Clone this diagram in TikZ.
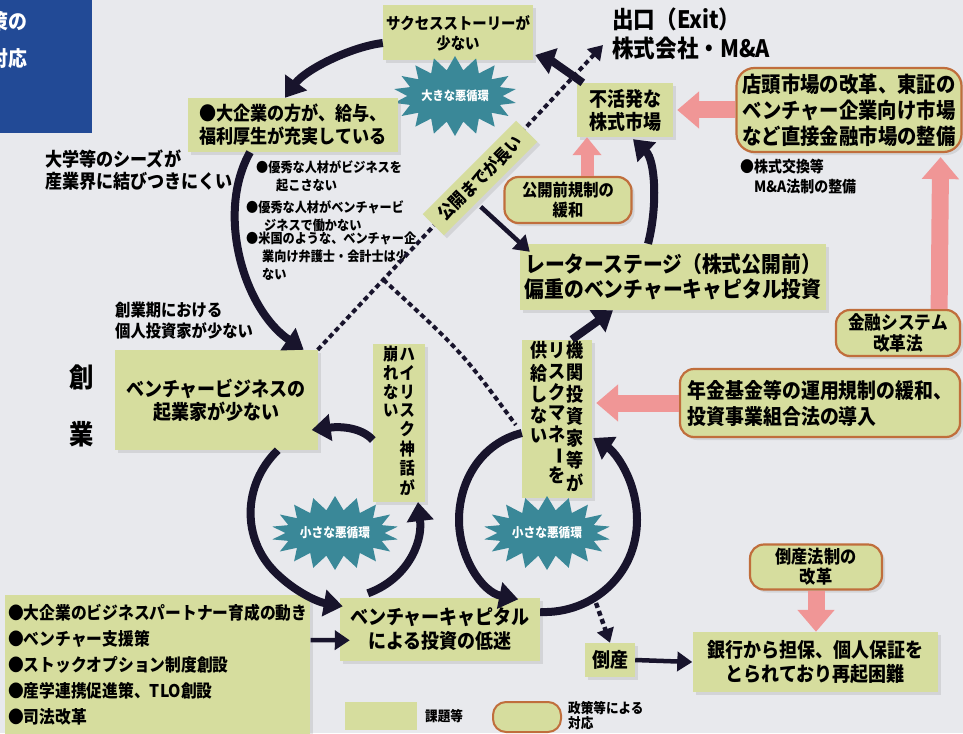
\documentclass[tikz,border=0pt]{standalone}
\usepackage{fontspec}
\usepackage{graphicx}
\setmainfont{Noto Sans CJK JP}[FakeStretch=0.9]
\usetikzlibrary{arrows.meta,shapes.symbols,calc,shadows}
\definecolor{bgC}{RGB}{232,233,237}
\definecolor{boxg}{RGB}{214,221,158}
\definecolor{polb}{RGB}{192,110,60}
\definecolor{pinkC}{RGB}{240,150,150}
\definecolor{tealC}{RGB}{58,136,152}
\definecolor{darkC}{RGB}{24,20,44}
\definecolor{blueC}{RGB}{34,74,150}
\newcommand{\jfs}[2]{\fontsize{#1}{#2}\selectfont\bfseries}
\newcommand{\vbar}{\rotatebox[origin=c]{-90}{ー}}
\newcommand{\vcolumn}[1]{\begin{tabular}[t]{@{}c@{}}#1\end{tabular}}
\begin{document}
\begin{tikzpicture}[x=1pt,y=-1pt,
  issue/.style={fill=boxg, align=center, inner sep=3pt,
    drop shadow={opacity=0.2, shadow xshift=3pt, shadow yshift=-3pt}},
  policy/.style={fill=boxg, draw=polb, line width=2.2pt, rounded corners=14pt, align=center, inner sep=3pt,
    drop shadow={opacity=0.2, shadow xshift=3pt, shadow yshift=-3pt}},
  plain/.style={inner sep=0pt, align=left},
  burst/.style={starburst, fill=tealC, starburst points=18, starburst point height=14pt, random starburst=0, text=white, inner sep=0pt},
  darr/.style={draw=darkC, line width=8pt, -{Triangle[length=19pt,width=26pt]}},
  darrthin/.style={draw=darkC, line width=4.5pt, -{Triangle[length=15pt,width=19pt]}},
  dotln/.style={draw=darkC, line width=4pt, dash pattern=on 5pt off 3.5pt},
  dotarr/.style={dotln, -{Triangle[length=14pt,width=17pt]}},
  parr/.style={draw=pinkC, line width=17pt, -{Triangle[length=22pt,width=36pt]}},
  parrs/.style={draw=pinkC, line width=13pt, -{Triangle[length=18pt,width=28pt]}}
]
\fill[bgC] (0,0) rectangle (963,733);
\useasboundingbox (0,0) rectangle (963,733);

% title block (cut off at left)
\node[fill=blueC, minimum width=92pt, minimum height=133pt, anchor=north west, inner sep=0pt] (bluebox) at (0,0) {};
\node[anchor=north east, align=right, text=white, font=\jfs{21}{37}, inner sep=0pt] (bluetext) at (28,11) {策の\\対応};

% issue boxes
\node[issue, minimum width=147pt, minimum height=55pt, font=\jfs{16}{20}] (success) at (458,33) {サクセスストーリーが\\少ない};
\node[plain, anchor=north west, font=\jfs{24}{29}] (exit) at (612,8) {出口（Exit）\\株式会社・M\&A};
\node[burst, minimum width=100pt, minimum height=80pt, font=\jfs{12.5}{14}] (bigburst) at (455,96) {大きな悪循環};
\node[issue, minimum width=210pt, minimum height=54pt, font=\jfs{19}{23}] (bigcorp) at (293,125) {●大企業の方が、給与、\\福利厚生が充実している};
\node[plain, anchor=north west, font=\jfs{19}{22}] (univ) at (45,150) {大学等のシーズが\\産業界に結びつきにくい};
\node[plain, anchor=north west, font=\jfs{13.5}{18}] (b1) at (256,160) {●優秀な人材がビジネスを\\\hspace*{20pt}起こさない};
\node[plain, anchor=north west, font=\jfs{13.5}{18}] (b2) at (246,200) {●優秀な人材がベンチャービ\\\hspace*{18pt}ジネスで働かない};
\node[plain, anchor=north west, font=\jfs{13.5}{18}] (b3) at (246,232) {●米国のような、ベンチャー企\\\hspace*{16pt}業向け弁護士・会計士は少\\\hspace*{16pt}ない};
\node[plain, anchor=north west, font=\jfs{17}{21}] (sogyoki) at (115,302) {創業期における\\個人投資家が少ない};
\node[font=\jfs{27}{27}, inner sep=0pt] (sou) at (82,377) {創};
\node[font=\jfs{27}{27}, inner sep=0pt] (gyo) at (82,434) {業};
\node[issue, minimum width=203pt, minimum height=100pt, font=\jfs{20}{23}] (vb) at (216,400) {ベンチャービジネスの\\起業家が少ない};
\node[issue, minimum width=52pt, minimum height=147pt, font=\jfs{17}{17}, inner sep=2pt] (hr) at (399,423)
  {\vcolumn{崩\\れ\\な\\い}\hspace{1pt}\vcolumn{ハ\\イ\\リ\\ス\\ク\\神\\話\\が}};
\node[issue, minimum width=70pt, minimum height=148pt, font=\jfs{19}{19.5}, inner sep=2pt] (kikan) at (557,419)
  {\vcolumn{供\\給\\し\\な\\い}\hspace{1pt}\vcolumn{リ\\ス\\ク\\マ\\ネ\\\vbar\\を}\hspace{1pt}\vcolumn{機\\関\\投\\資\\家\\等\\が}};
\node[issue, minimum width=306pt, minimum height=66pt, font=\jfs{22}{25}] (rater) at (673,277) {レーターステージ（株式公開前）\\偏重のベンチャーキャピタル投資};
\node[policy, minimum width=127pt, minimum height=46pt, font=\jfs{17}{20}] (kokai) at (568,200) {公開前規制の\\緩和};
\node[issue, minimum width=96pt, minimum height=54pt, font=\jfs{20}{23}] (fuk) at (625,110) {不活発な\\株式市場};
\node[policy, minimum width=225pt, minimum height=84pt, font=\jfs{21.5}{26}, rounded corners=18pt] (tento) at (849,110) {店頭市場の改革、東証の\\ベンチャー企業向け市場\\など直接金融市場の整備};
\node[plain, anchor=north west, font=\jfs{15.5}{20}] (kabu) at (740,159) {●株式交換等\\\hspace*{14pt}M\&A法制の整備};
\node[policy, minimum width=124pt, minimum height=46pt, font=\jfs{18.5}{21}] (kinyu) at (898,333) {金融システム\\改革法};
\node[policy, minimum width=280pt, minimum height=68pt, font=\jfs{21}{26}, align=left] (nenkin) at (820,403) {年金基金等の運用規制の緩和、\\投資事業組合法の導入};
\node[policy, minimum width=132pt, minimum height=45pt, font=\jfs{18}{20}] (hosei) at (816,567) {倒産法制の\\改革};
\node[issue, minimum width=245pt, minimum height=60pt, font=\jfs{20}{24}] (ginko) at (815,662) {銀行から担保、個人保証を\\とられており再起困難};
\node[issue, minimum width=50pt, minimum height=34pt, font=\jfs{20}{22}] (tosan) at (610,660) {倒産};
\node[issue, minimum width=200pt, minimum height=63pt, font=\jfs{20}{24}] (vc) at (440,629) {ベンチャーキャピタル\\による投資の低迷};
\node[issue, anchor=north west, minimum width=303pt, minimum height=140pt, align=left, font=\jfs{17.5}{26}] (list) at (5,595)
  {●大企業のビジネスパートナー育成の動き\\●ベンチャー支援策\\●ストックオプション制度創設\\●産学連携促進策、TLO創設\\●司法改革};
\node[burst, minimum width=118pt, minimum height=74pt, font=\jfs{13}{14}] (sb1) at (335,533) {小さな悪循環};
\node[burst, minimum width=118pt, minimum height=74pt, font=\jfs{13}{14}] (sb2) at (547,533) {小さな悪循環};

% legend
\node[fill=boxg, minimum width=72pt, minimum height=28pt] (lgg) at (381,716) {};
\node[anchor=west, font=\jfs{14}{16}, inner sep=0pt] (lggt) at (425,716) {課題等};
\node[fill=boxg, draw=polb, line width=2pt, rounded corners=13pt, minimum width=68pt, minimum height=30pt] (lgp) at (527,717) {};
\node[anchor=west, align=left, font=\jfs{14}{15}, inner sep=0pt] (lgpt) at (568,716) {政策等による\\対応};

% dotted lines
\coordinate (exitpt) at (603,45);
\coordinate (br) at ($(vb.north east)!0.23!(exitpt)$);
\draw[dotarr] (vb.north east) -- (exitpt);
\draw[dotln] (br) .. controls (462,352) .. ($(kikan.west)+(-6,6)$);
\node[issue, rotate=45, minimum width=132pt, minimum height=30pt, font=\jfs{17.5}{18}, inner sep=1pt] (kaikai) at (480,178) {公開までが長い};

% big loop
\draw[darr] ($(success.west)+(0,10)$) .. controls (350,47) and (305,70) .. ($(bigcorp.north)+(-8,0)$);
\draw[darr] ($(fuk.north west)+(6,0)$) .. controls (565,70) and (550,60) .. ($(success.east)+(2,22)$);
\draw[darr] ($(rater.north)+(-25,0)$) .. controls (658,205) and (655,160) .. ($(fuk.south)+(8,2)$);
\draw[darr] ($(bigcorp.south)+(-43,0)$) .. controls (215,215) and (245,310) .. ($(vb.north east)+(-14,0)$);
\draw[darrthin] ($(kaikai.south)+(-10,18)$) -- ($(rater.north west)+(10,8)$);
\draw[darr] ($(kikan.north)+(15,0)$) -- ($(rater.south)+(-60,0)$);

% left small loop
\draw[darr] ($(hr.west)+(0,17)$) .. controls (362,428) and (342,426) .. ($(vb.east)+(-6,30)$);
\draw[darr] ($(vb.south east)+(-40,0)$) .. controls (242,485) and (242,539) .. (275,572) .. controls (295,592) and (318,602) .. ($(vc.north west)+(3,9)$);
\draw[darr] ($(vc.north west)+(28,-4)$) .. controls (405,580) and (423,545) .. ($(hr.south)+(19,0)$);

% right small loop
\draw[darr] ($(kikan.west)+(0,14)$) .. controls (482,443) and (459,480) .. (459,520) .. controls (459,557) and (482,592) .. ($(vc.north east)+(-22,2)$);
\draw[darr] ($(vc.east)+(0,-17)$) .. controls (592,614) and (637,575) .. (637,520) .. controls (637,480) and (615,452) .. ($(kikan.east)+(1,19)$);

% bankruptcy
\coordinate (bkr) at (596,603);
\draw[dotarr, line width=4.5pt] (bkr) -- (tosan.north);
\draw[darrthin] (tosan.east) -- (ginko.west);
\draw[darrthin] ($(list.north east)+(0,45)$) -- ($(vc.north west)+(10,43)$);

% pink policy arrows
\draw[parr] (tento.west) -- ($(fuk.east)+(4,0)$);
\draw[parr] ($(kinyu.north east)+(-22,0)$) -- ($(tento.south east)+(-22,4)$);
\draw[parrs] ($(kokai.north)+(19,0)$) -- ($(fuk.south)+(-38,0)$);
\draw[parr] (nenkin.west) -- ($(nenkin.west -| kikan.east)+(4,0)$);
\draw[parr] (hosei.south) -- (hosei.south |- ginko.north);
\end{tikzpicture}
\end{document}
